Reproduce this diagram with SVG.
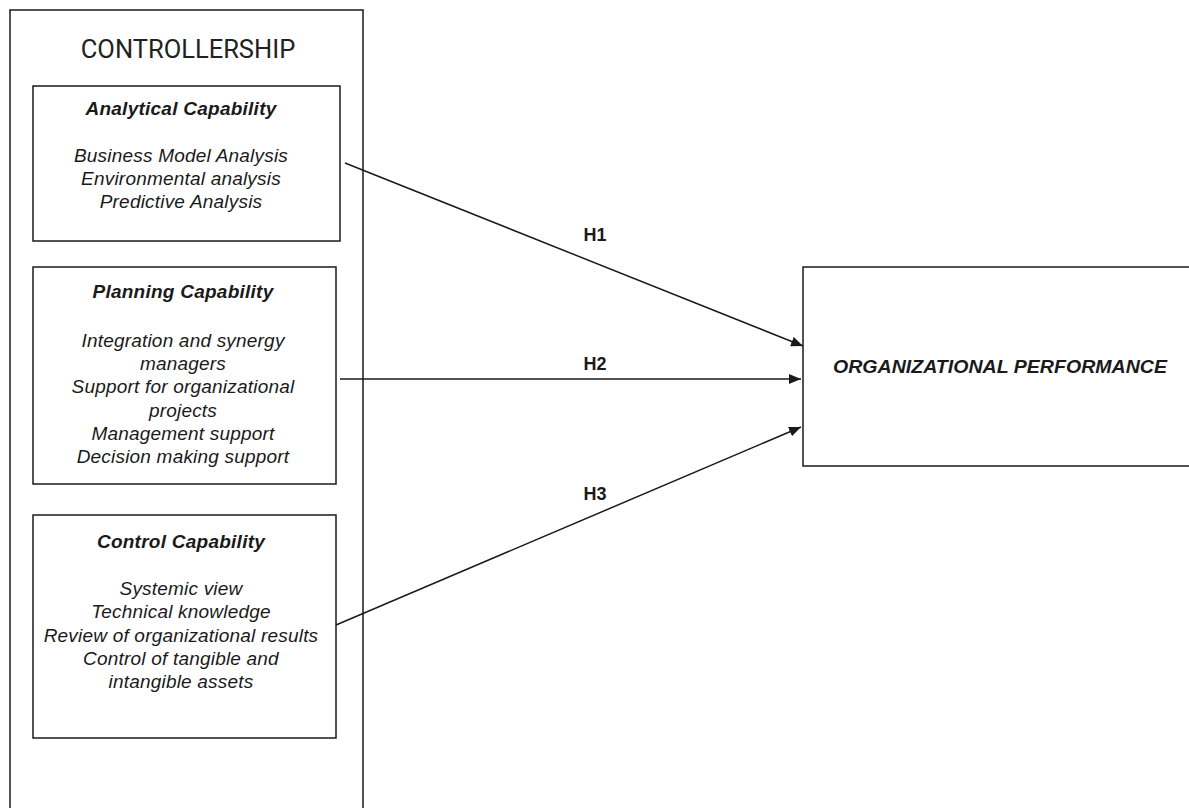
<svg xmlns="http://www.w3.org/2000/svg" width="1189" height="808" viewBox="0 0 1189 808">
<style>
.box{fill:#fff;stroke:#1a1a1a;stroke-width:1.5}
.t{font-family:"Liberation Sans",Arial,sans-serif;fill:#1a1a1a;text-anchor:middle}
.h{font-size:19px;font-weight:bold;font-style:italic;letter-spacing:0.25px}
.b{font-size:19px;font-style:italic;letter-spacing:0.2px}
.lab{font-size:18px;font-weight:bold}
.conn{stroke:#1a1a1a;stroke-width:1.5;fill:none;marker-end:url(#ah)}
</style>
<defs>
<marker id="ah" viewBox="0 0 12 10" refX="12" refY="5" markerWidth="12" markerHeight="10" markerUnits="userSpaceOnUse" orient="auto">
<path d="M0,0 L12,5 L0,10 z" fill="#1a1a1a"/>
</marker>
</defs>
<rect width="1189" height="808" fill="#fff"/>
<g id="controllership">
<rect class="box" x="10" y="10" width="353" height="810"/>
<text x="188" y="58" font-family="Roboto, 'Liberation Sans', sans-serif" font-size="25.5" fill="#222" text-anchor="middle">CONTROLLERSHIP</text>
</g>
<g id="analytical">
<rect class="box" x="33" y="86" width="307" height="155"/>
<text class="t h" x="181" y="115">Analytical Capability</text>
<text class="t b" x="181" y="162">Business Model Analysis</text>
<text class="t b" x="181" y="185">Environmental analysis</text>
<text class="t b" x="181" y="208">Predictive Analysis</text>
</g>
<g id="planning">
<rect class="box" x="33" y="267" width="303" height="217"/>
<text class="t h" x="183" y="298">Planning Capability</text>
<text class="t b" x="183" y="347">Integration and synergy</text>
<text class="t b" x="183" y="370">managers</text>
<text class="t b" x="183" y="393">Support for organizational</text>
<text class="t b" x="183" y="417">projects</text>
<text class="t b" x="183" y="440">Management support</text>
<text class="t b" x="183" y="463">Decision making support</text>
</g>
<g id="control">
<rect class="box" x="33" y="515" width="303" height="223"/>
<text class="t h" x="181" y="548">Control Capability</text>
<text class="t b" x="181" y="595">Systemic view</text>
<text class="t b" x="181" y="618">Technical knowledge</text>
<text class="t b" x="181" y="642">Review of organizational results</text>
<text class="t b" x="181" y="665">Control of tangible and</text>
<text class="t b" x="181" y="688">intangible assets</text>
</g>
<g id="performance">
<rect class="box" x="803" y="267" width="400" height="199"/>
<text class="t" x="1000" y="373" font-size="18.5" font-weight="bold" font-style="italic" textLength="334" lengthAdjust="spacingAndGlyphs">ORGANIZATIONAL PERFORMANCE</text>
</g>
<g id="connectors">
<line class="conn" x1="345" y1="163" x2="803" y2="346"/>
<line class="conn" x1="340" y1="379" x2="801" y2="379"/>
<line class="conn" x1="336" y1="625" x2="801" y2="427"/>
<text class="t lab" x="595" y="241">H1</text>
<text class="t lab" x="595" y="370">H2</text>
<text class="t lab" x="595" y="500">H3</text>
</g>
</svg>
